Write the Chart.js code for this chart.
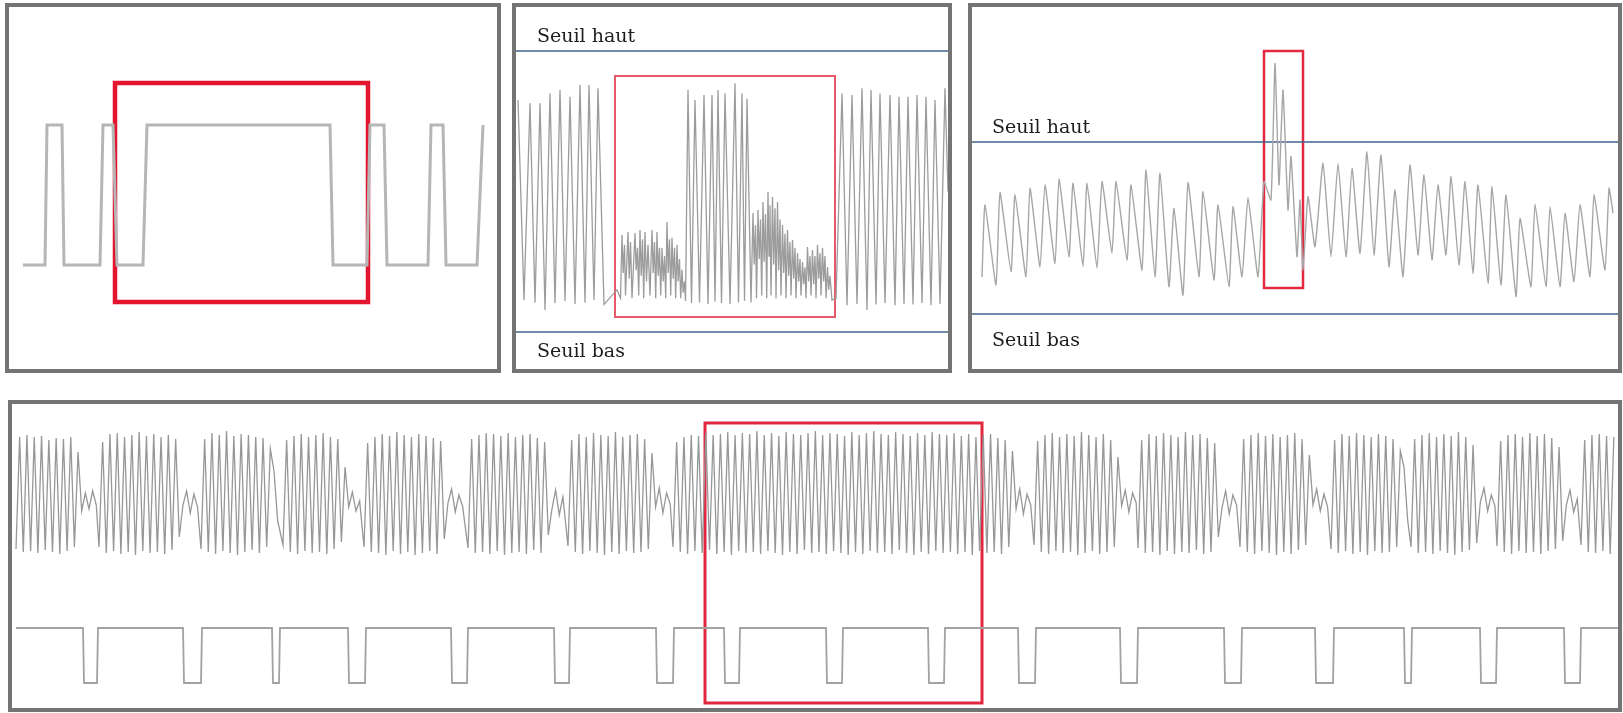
<!DOCTYPE html>
<html>
<head>
<meta charset="utf-8">
<title>Seuils</title>
<script src="https://cdn.jsdelivr.net/npm/chart.js@4"></script>
<style>
    body { margin: 0; background: #fff; width: 1623px; height: 713px; overflow: hidden; position: relative; }
    .panel { position: absolute; border: 4px solid #747474; background: #fff; }
    .panel canvas { display: block; }
</style>
</head>
<body>
<div class="panel" style="left:5px;top:3px;width:488px;height:362px"><canvas id="c1" width="488" height="362"></canvas></div>
<div class="panel" style="left:512px;top:3px;width:432px;height:362px"><canvas id="c2" width="432" height="362"></canvas></div>
<div class="panel" style="left:968px;top:3px;width:646px;height:362px"><canvas id="c3" width="646" height="362"></canvas></div>
<div class="panel" style="left:8px;top:400px;width:1606px;height:304px"><canvas id="c4" width="1606" height="304"></canvas></div>
<script>
// thresholds (panels 2 and 3), amplitude units
const seuilHaut = 100;
const seuilBas = 0;

// panel 1 : square signal, time (ms) / level
const sig1Time = [14, 36, 38, 53, 55, 91, 94, 104, 108, 134, 138, 321, 324, 358, 361, 375, 378, 419, 422, 434, 437, 468, 474];
const sig1Level = [0, 0, 1, 1, 0, 0, 1, 1, 0, 0, 1, 1, 0, 0, 1, 1, 0, 0, 1, 1, 0, 0, 1];
const box1 = [106, 359, -0.264, 1.3]; // t0, t1, v0, v1

// panel 2 : spikes between the thresholds
const sig2Time = [2, 8, 14, 19, 24, 29, 34, 39, 44, 49, 54, 59, 64, 69, 73, 78, 82, 88,
    // weak part
    101, 104.5, 106, 107.2, 108.5, 109.5, 112, 113.2, 114.5, 116, 119, 120.2, 121.5, 122.7, 124, 125.2, 126.5, 127.7,
    129, 130.5, 132, 134, 136, 137.2, 138.5, 139.7, 141, 142.2, 143.5, 144.7, 146, 147.2, 148.5, 149.7,
    151, 152.2, 153.5, 154.7, 156, 157.2, 158.5, 159.7, 161, 162.2, 163.5, 164.7, 166, 167.2, 168.5, 169.5,
    // strong part
    172, 175.5, 179, 183.5, 188, 192, 196, 199, 202, 205.5, 209, 214, 219, 222.5, 226, 228.5, 231, 235,
    // weak part
    237, 238.2, 239.5, 240.5, 242, 243.2, 244.5, 245.7, 247, 248.2, 249.5, 250.7, 252, 253, 254, 255,
    256.5, 257.7, 259, 260, 261.5, 262.7, 264, 265, 266.5, 267.7, 269, 270, 271.5, 272.7, 274, 275,
    276.5, 277.7, 279, 280, 281.5, 282.7, 284, 285, 286.5, 287.7, 289, 290, 291.5, 292.7, 294, 295,
    296.5, 297.7, 299, 300, 301.5, 302.7, 304, 305, 306.5, 307.7, 309, 310, 311.5, 312.7, 314, 316,
    // strong part
    320, 326, 331, 336, 341, 346, 351, 355, 360, 364, 369, 374, 379, 383, 388, 392, 397, 401, 406, 410,
    415, 419, 424, 429, 432];
const sig2Value = [82.6, 11.4, 81.4, 10.5, 81.4, 7.8, 84.9, 10.3, 86.1, 11.0, 83.7, 10.0, 87.9, 10.5, 87.9, 11.4, 86.7, 9.8,
    15, 12, 34.5, 21, 31, 13, 35.6, 19, 32, 12, 35.2, 22, 30, 13, 36.3, 20, 33, 12,
    35.6, 18, 31, 13, 36.3, 21, 32, 12, 35.6, 20, 30, 13, 29.9, 18, 27, 12,
    39.1, 21, 33, 13, 33.5, 19, 30, 12, 31.0, 18, 26, 12, 22.1, 14, 18, 11,
    86.1, 10.3, 82.6, 10.5, 84.3, 10.0, 84.3, 10.8, 86.1, 10.3, 85.0, 10.0, 88.5, 10.5, 84.9, 11.0, 83.0, 10.5,
    42.3, 24, 38, 12, 43.4, 26, 40, 13, 46.3, 25, 42, 12, 49.8, 27, 45, 13,
    48.0, 24, 44, 12, 46.3, 22, 40, 13, 38.1, 21, 35, 12, 36.3, 20, 32, 13,
    32.7, 19, 30, 12, 28.1, 18, 26, 13, 24.9, 17, 23, 12, 30.2, 18, 27, 13,
    29.2, 17, 27, 12, 31.0, 19, 28, 13, 29.9, 18, 27, 12, 23.1, 15, 20, 11.4,
    12, 84.9, 9.5, 84.3, 10.0, 86.7, 7.8, 86.1, 9.8, 84.9, 10.3, 84.3, 9.5, 83.7, 10.0, 83.7, 9.8, 84.3, 10.3, 83.7,
    9.5, 82.6, 10.0, 86.7, 50];
const box2 = [99, 319, 5.3, 91.1];

// panel 3 : oscillation crossing the high threshold
const sig3Time = [10, 13, 24, 28, 39, 43, 54, 58, 68, 73, 83, 87, 97, 101, 111, 115, 125, 130, 140, 144,
    155, 159, 170, 174, 183, 188, 197, 202, 211, 216, 227, 231, 242, 246, 257, 261, 270, 276, 286, 292,
    299, 303, 307, 311, 316, 319, 325, 328, 331, 336, 343, 351, 359, 366, 374, 380, 388, 395, 402, 409,
    417, 423, 431, 438, 446, 452, 460, 466, 474, 479, 487, 493, 501, 506, 516, 520, 529, 534, 544, 548,
    559, 563, 574, 578, 588, 593, 602, 608, 618, 622, 633, 637, 641];
const sig3Value = [21.5, 63.4, 16.9, 70.5, 24.6, 69.2, 21.7, 73.1, 27.5, 75.0, 29.5, 78.3, 33.3, 76.0, 27.5, 76.0, 26.6, 76.9, 35.3, 76.9,
    31.4, 75.0, 25.6, 83.7, 21.7, 81.8, 15.9, 61.4, 11.0, 76.4, 21.7, 71.1, 19.8, 63.4, 15.9, 62.4, 21.7, 67.8, 21.7, 76.9,
    66.3, 145.7, 75.0, 130.2, 60.5, 91.5, 33.3, 66.3, 25.6, 68.2, 39.1, 87.6, 33.3, 87.6, 33.3, 84.7, 35.3, 94.4, 34.3, 92.4,
    27.5, 72.1, 21.7, 86.6, 34.3, 80.8, 31.4, 75.0, 34.3, 79.8, 28.5, 76.9, 23.7, 75.0, 17.8, 74.0, 16.9, 69.2, 10.1, 55.6,
    15.9, 64.0, 15.9, 62.4, 15.9, 58.5, 18.8, 63.4, 21.7, 69.2, 25.6, 73.1, 58.7];
const box3 = [292, 331, 15.1, 152.9];

// panel 4 : burst signal (sampled every 3.65 ms) and detection pulses
const sampleMs = 3.65;
const burstStart = [4, 87, 189, 271, 352, 456, 556, 661, 1022, 1126, 1228, 1319, 1399, 1485, 1569];
const burst1 = [-52, 60, -55, 62, -54, 60, -56, 61, -53, 57, -55, 59, -57, 58, -54, 60, -50, 45, -14, 4, -12, 6, -8];
const burst2 = [-50, 55, -56, 63, -54, 64, -57, 60, -55, 62, -58, 65, -54, 61, -56, 63, -55, 60, -57, 62, -53, 58, -40, -8, 6, -16, 3, -10];
const burst3 = [-52, 58, -55, 64, -57, 62, -54, 66, -56, 61, -58, 63, -55, 62, -53, 60, -56, 59, -50, 48, 26, -24];
const burst4 = [-48, 57, -55, 61, -57, 63, -54, 60, -56, 62, -55, 64, -57, 60, -52, 58, -45, 30, -10, 5, -14, -4];
const burst5 = [-50, 54, -55, 60, -56, 63, -58, 61, -54, 65, -57, 62, -55, 60, -58, 63, -56, 61, -54, 59, -57, 56, -42, -6, 8, -15, 2, -9];
const burst6 = [-51, 58, -56, 62, -55, 64, -57, 63, -54, 61, -58, 64, -56, 60, -55, 62, -57, 63, -53, 59, -56, 55, -38, -12, 7, -18, 0];
const burst7 = [-49, 57, -55, 63, -57, 60, -54, 64, -56, 62, -58, 61, -55, 65, -57, 60, -54, 62, -56, 63, -55, 58, -52, 44, -10, 9, -16, 4, -7];
const burst8 = [-50, 55, -55, 60, -57, 62, -54, 61, -56, 64, -53, 62, -57, 63, -55, 65, -58, 62, -54, 64,
    -56, 63, -55, 66, -57, 62, -54, 64, -56, 61, -58, 65, -55, 63, -57, 62, -53, 64, -56, 66,
    -55, 62, -57, 64, -54, 63, -56, 61, -58, 65, -55, 62, -57, 64, -54, 66, -56, 63, -55, 62,
    -57, 65, -53, 63, -56, 61, -58, 64, -55, 62, -57, 65, -54, 63, -56, 62, -55, 64, -57, 61,
    -55, 63, -58, 60, -54, 62, -56, 63, -55, 59, -57, 57, -50, 46, -12, 8, -17, 3, -8];
const burst9 = [-48, 56, -55, 62, -57, 64, -54, 60, -56, 63, -55, 61, -58, 65, -56, 62, -54, 60, -57, 63, -55, 57, -50, 40, -9, 7, -15, 4, -6];
const burst10 = [-51, 57, -56, 63, -55, 61, -58, 64, -54, 62, -57, 60, -55, 65, -56, 62, -53, 63, -57, 59, -55, 54, -40, -11, 6, -17, 2, -8];
const burst11 = [-50, 58, -55, 62, -57, 64, -54, 61, -56, 63, -58, 60, -55, 62, -57, 64, -53, 58, -48, 42, -8, 8, -14, 3, -10];
const burst12 = [-52, 57, -56, 63, -54, 61, -57, 64, -55, 62, -58, 60, -54, 63, -56, 61, -55, 58, -50, 46, 30, -23];
const burst13 = [-50, 58, -56, 62, -55, 64, -57, 60, -54, 63, -56, 61, -58, 65, -55, 60, -53, 52, -46, -5, 9, -14, 2, -9];
const burst14 = [-49, 56, -55, 62, -57, 63, -54, 60, -56, 64, -55, 61, -57, 63, -54, 59, -52, 50, -44, -8, 7, -15, -2];
const burst15 = [-48, 57, -55, 62, -56, 63, -54, 61, -57, 60];
const pulseTime = [4, 71, 72, 85, 86, 171, 172, 189, 190, 260, 261, 267, 268, 336, 337, 353, 354,
    439, 440, 455, 456, 542, 543, 557, 558, 644, 645, 661, 662, 712, 713, 727, 728, 814, 815, 830, 831,
    916, 917, 932, 933, 1006, 1007, 1023, 1024, 1108, 1109, 1125, 1126, 1212, 1213, 1229, 1230,
    1303, 1304, 1321, 1322, 1392, 1393, 1399, 1400, 1468, 1469, 1484, 1485, 1552, 1553, 1568, 1569, 1606];
const pulseLevel = [1, 1, 0, 0, 1, 1, 0, 0, 1, 1, 0, 0, 1, 1, 0, 0, 1,
    1, 0, 0, 1, 1, 0, 0, 1, 1, 0, 0, 1, 1, 0, 0, 1, 1, 0, 0, 1,
    1, 0, 0, 1, 1, 0, 0, 1, 1, 0, 0, 1, 1, 0, 0, 1,
    1, 0, 0, 1, 1, 0, 0, 1, 1, 0, 0, 1, 1, 0, 0, 1, 1];
const box4 = [693, 970, -206, 74];

const traceColor = '#a6a6a6';
const seuilColor = '#41658c';

// draws the "Seuil haut / Seuil bas" captions next to the threshold lines
const seuilLabels = {
    id: 'seuilLabels',
    afterDatasetsDraw(chart, args, opts) {
        if (!opts.items || !opts.items.length) return;
        const ctx = chart.ctx;
        const yScale = chart.scales.y;
        ctx.save();
        ctx.font = '19px "DejaVu Serif"';
        ctx.fillStyle = '#1e1e1e';
        ctx.textBaseline = 'alphabetic';
        opts.items.forEach(item => {
            ctx.fillText(item.text, chart.chartArea.left + item.dx, yScale.getPixelForValue(item.value) + item.dy);
        });
        ctx.restore();
    }
};

function zip(xs, ys) {
    return xs.map((x, i) => ({ x: x, y: ys[i] }));
}

function boxPoints(b) {
    return [{ x: b[0], y: b[2] }, { x: b[1], y: b[2] }, { x: b[1], y: b[3] }, { x: b[0], y: b[3] }, { x: b[0], y: b[2] }];
}

function lineSet(points, color, width, extra) {
    return Object.assign({
        data: points,
        borderColor: color,
        borderWidth: width,
        pointRadius: 0,
        fill: false,
        tension: 0
    }, extra || {});
}

function boxSet(b, color, width, axis) {
    return lineSet(boxPoints(b), color, width, { borderJoinStyle: 'miter', borderCapStyle: 'square', yAxisID: axis || 'y' });
}

function hidden(min, max) {
    return { type: 'linear', min: min, max: max, display: false };
}

function drawPanel(id, datasets, scales, labels) {
    new Chart(document.getElementById(id), {
        type: 'line',
        data: { datasets: datasets },
        options: {
            responsive: false,
            animation: false,
            events: [],
            layout: { padding: 0 },
            scales: scales,
            plugins: {
                legend: { display: false },
                tooltip: { enabled: false },
                seuilLabels: { items: labels || [] }
            }
        },
        plugins: [seuilLabels]
    });
}

// panel 1
drawPanel('c1', [
    lineSet(zip(sig1Time, sig1Level), '#b6b6b6', 3),
    boxSet(box1, '#e2142e', 4.5)
], { x: hidden(0, 488), y: hidden(-0.743, 1.843) });

// panel 2
drawPanel('c2', [
    lineSet(zip(sig2Time, sig2Value), '#9c9c9c', 1.3),
    lineSet(zip([0, 432], [seuilHaut, seuilHaut]), seuilColor, 1.6),
    lineSet(zip([0, 432], [seuilBas, seuilBas]), seuilColor, 1.6),
    boxSet(box2, '#e6586c', 2)
], { x: hidden(0, 432), y: hidden(-13.17, 115.66) }, [
    { text: 'Seuil haut', value: seuilHaut, dx: 21, dy: -9 },
    { text: 'Seuil bas', value: seuilBas, dx: 21, dy: 25 }
]);

// panel 3
drawPanel('c3', [
    lineSet(zip(sig3Time, sig3Value), traceColor, 1.4, { tension: 0.15 }),
    lineSet(zip([0, 646], [seuilHaut, seuilHaut]), seuilColor, 1.6),
    lineSet(zip([0, 646], [seuilBas, seuilBas]), seuilColor, 1.6),
    boxSet(box3, '#e42a40', 2.5)
], { x: hidden(0, 646), y: hidden(-31.98, 178.49) }, [
    { text: 'Seuil haut', value: seuilHaut, dx: 20, dy: -9 },
    { text: 'Seuil bas', value: seuilBas, dx: 20, dy: 32 }
]);

// panel 4
const bursts = [burst1, burst2, burst3, burst4, burst5, burst6, burst7, burst8,
    burst9, burst10, burst11, burst12, burst13, burst14, burst15];
const upperTrace = [];
bursts.forEach((values, k) => {
    values.forEach((v, i) => upperTrace.push({ x: burstStart[k] + i * sampleMs, y: v }));
});

drawPanel('c4', [
    lineSet(upperTrace, '#979797', 1.3),
    lineSet(zip(pulseTime, pulseLevel), '#a2a2a2', 1.8, { yAxisID: 'y2' }),
    boxSet(box4, '#e32640', 3)
], { x: hidden(0, 1606), y: hidden(-211, 93), y2: hidden(-0.4545, 5.0727) });
</script>
</body>
</html>
